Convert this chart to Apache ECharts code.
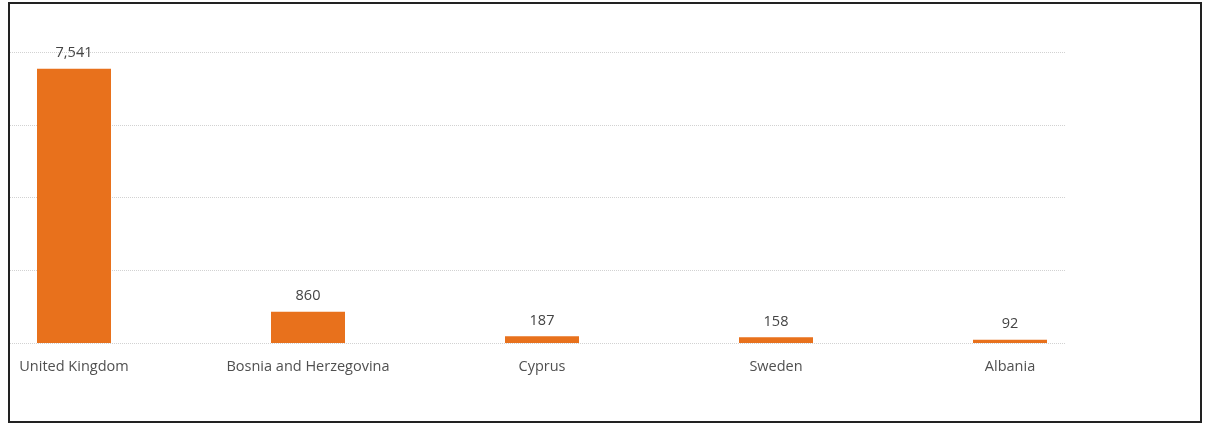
<!DOCTYPE html>
<html>
<head>
<meta charset="utf-8">
<script src="https://cdn.jsdelivr.net/npm/echarts@6/dist/echarts.min.js"></script>
<style>
  html, body { margin: 0; padding: 0; background: #fff; }
  #wrap { position: relative; width: 1206px; height: 423px; }
  #chart { width: 1206px; height: 423px; }
  #frame {
    position: absolute; left: 8px; top: 2px; width: 1190px; height: 417px;
    border: 2px solid #222; pointer-events: none;
  }
</style>
</head>
<body>
<div id="wrap">
  <div id="chart"></div>
  <div id="frame"></div>
</div>
<script>
const countries = ['United Kingdom', 'Bosnia and Herzegovina', 'Cyprus', 'Sweden', 'Albania']
const counts = [7541, 860, 187, 158, 92]
const yTicks = [0, 2000, 4000, 6000, 8000]

const chart = echarts.init(document.getElementById('chart'))
const font = '"Open Sans", "Noto Sans", sans-serif'

const option = {
  animation: false,
  grid: [
    // dotted gridlines only
    { left: 10, right: 140, top: 52, bottom: 80 },
    // bars
    { left: 74, right: 196, top: 52, bottom: 80 }
  ],
  xAxis: [
    { gridIndex: 0, type: 'value', min: 0, max: 1, show: false },
    {
      gridIndex: 1,
      type: 'category',
      boundaryGap: false,
      data: countries,
      axisLine: { show: false },
      axisTick: { show: false },
      axisLabel: { color: '#505050', fontSize: 14.5, fontFamily: font, margin: 16, interval: 0 }
    }
  ],
  yAxis: [
    {
      gridIndex: 0,
      type: 'value',
      min: yTicks[0],
      max: yTicks[yTicks.length - 1],
      interval: yTicks[1] - yTicks[0],
      axisLabel: { show: false },
      axisLine: { show: false },
      axisTick: { show: false },
      splitLine: { lineStyle: { color: '#d2d2d2', type: 'dotted', width: 1 } }
    },
    {
      gridIndex: 1,
      type: 'value',
      min: yTicks[0],
      max: yTicks[yTicks.length - 1],
      show: false,
      splitLine: { show: false }
    }
  ],
  series: [{
    type: 'bar',
    xAxisIndex: 1,
    yAxisIndex: 1,
    data: counts,
    barWidth: 74,
    itemStyle: { color: '#E8711C' },
    label: {
      show: true,
      position: 'top',
      distance: 8,
      color: '#444',
      fontSize: 14.5,
      fontFamily: font,
      formatter: p => p.value.toLocaleString('en-US')
    }
  }]
}

chart.setOption(option)
</script>
</body>
</html>
